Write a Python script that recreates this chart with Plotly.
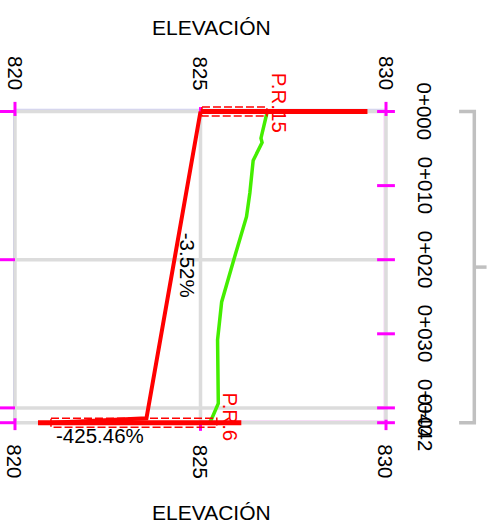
import plotly.graph_objects as go

# ---------------- data ----------------
elev_ticks = [820, 825, 830]
elev_tick_labels = ["820", "825", "830"]
stations = [0, 10, 20, 30, 40, 42]
station_labels = ["0+000", "0+010", "0+020", "0+030", "0+040", "0+042"]
grid_stations = [0, 20, 40, 42]

ground_st = [0, 3.6, 4.2, 6.6, 11.0, 14.2, 20.3, 25.7, 30.8, 39.4, 41.5, 42]
ground_el = [826.80, 826.63, 826.66, 826.42, 826.33, 826.24, 825.88, 825.57, 825.46, 825.48, 825.30, 825.24]

grade_st = [0, 41.4, 42]
grade_el = [825.0, 823.543, 821.0]
grade_labels = ["-3.52%", "-425.46%"]

pr_labels = ["P.R.15", "P.R.6"]
pr_st = [0, 42]
pr_line_el = [[825.0, 829.5], [820.62, 826.1]]
pr_box_el = [[825.04, 826.79], [820.97, 825.44]]

title = "ELEVACIÓN"

# ---------------- figure ----------------
W, H = 487, 528
X_RANGE = [819.596, 832.722]
Y_RANGE = [56.21, -15.05]

fig = go.Figure()

def line(xs, ys, color, width, dash=None):
    fig.add_trace(go.Scatter(x=xs, y=ys, mode="lines",
                             line=dict(color=color, width=width, dash=dash),
                             hoverinfo="skip", showlegend=False))

e0, e1 = elev_ticks[0], elev_ticks[-1]
s0, s1 = grid_stations[0], grid_stations[-1]

# thin coloured frame hints
line([e0 - 0.04, e0 - 0.04], [s0, s1], "#b8b8f0", 1)
line([e0, e1], [s0 - 0.3, s0 - 0.3], "#c8c8f0", 1)
line([e1 - 0.05, e1 - 0.05], [s0, s1], "#f0c0f0", 1)
line([825, e1], [s1 - 0.2, s1 - 0.2], "#f0b8f0", 1.5)

# grid
for e in elev_ticks:
    line([e, e], [s0, s1], "#dcdcdc", 3.5)
for s in grid_stations:
    line([e0, e1], [s, s], "#dcdcdc", 3.5)

# magenta ticks
for s in grid_stations:
    line([X_RANGE[0], e0], [s, s], "#ff00ff", 3)
for s in stations:
    line([e1 - 0.24, e1 + 0.24], [s, s], "#ff00ff", 3)
line([e0, e0], [-1.3, 0.6], "#ff00ff", 3)
line([825, 825], [-0.6, 0.2], "#ff00ff", 3)
line([e1, e1], [-1.3, 0.6], "#ff00ff", 3)
line([e0, e0], [41.4, 43.0], "#ff00ff", 3)
line([825, 825], [42.3, 43.1], "#ff00ff", 3)
line([e1, e1], [41.6, 43.0], "#ff00ff", 3)

# ground line
line(ground_el, ground_st, "#44ee00", 3.5)

# P.R. boxes and lines
for st, box, pl in zip(pr_st, pr_box_el, pr_line_el):
    line([box[0], box[1], box[1], box[0], box[0]],
         [st - 0.6, st - 0.6, st + 0.6, st + 0.6, st - 0.6], "#ff0000", 1.5, "8px,3px")
    line(pl, [st, st], "#ff0000", 5)

# grade line
line(grade_el, grade_st, "#ff0000", 4)

# bracket
line([831.97, 832.38, 832.38, 831.97], [s0, s0, s1, s1], "#c0c0c0", 3.5)
line([832.38, 832.71], [(s0 + s1) / 2, (s0 + s1) / 2], "#c0c0c0", 3.5)

FONT = "Liberation Sans, Arial, sans-serif"
FS = 20.5
ann = []
def text(x, y, t, color="black", angle=0, size=FS, ref="data"):
    d = dict(x=x, y=y, text=t, textangle=angle, showarrow=False,
             xanchor="center", yanchor="middle",
             font=dict(size=size, color=color, family=FONT))
    if ref == "paper":
        d.update(xref="paper", yref="paper")
    ann.append(d)

for e, t in zip(elev_ticks, elev_tick_labels):
    text(e, -5.2, t, angle=90)
    text(e, 47.2, t, angle=90)
for s, t in zip(stations, station_labels):
    text(831.05, s, t, angle=90)
text(827.12, -1.15, pr_labels[0], color="#ff0000", angle=90)
text(825.82, 41.3, pr_labels[1], color="#ff0000", angle=90)
text(824.64, 20.7, grade_labels[0], angle=90)
text(822.29, 43.7, grade_labels[1])
text(211 / W, 1 - 27 / H, title, size=21, ref="paper")
text(211 / W, 1 - 512 / H, title, size=21, ref="paper")

fig.update_layout(
    width=W, height=H, autosize=False,
    margin=dict(l=0, r=0, t=0, b=0),
    paper_bgcolor="white", plot_bgcolor="white",
    xaxis=dict(range=X_RANGE, visible=False, fixedrange=True),
    yaxis=dict(range=Y_RANGE, visible=False, fixedrange=True),
    annotations=ann,
)

fig.write_html("out.html", config={"displayModeBar": False},
               post_script="document.body.style.margin='0px';document.body.style.overflow='hidden';")
